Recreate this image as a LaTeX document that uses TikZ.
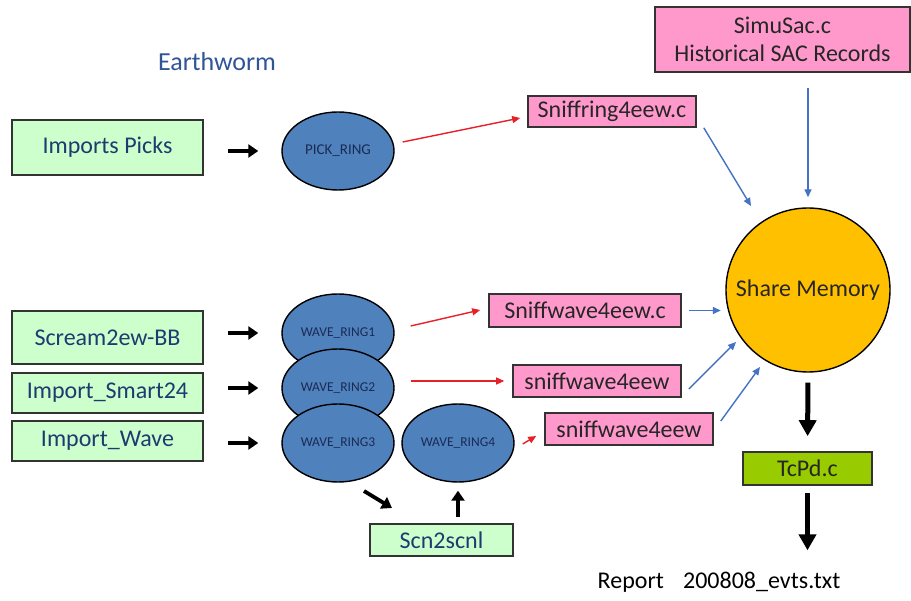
\documentclass[tikz,border=0pt]{standalone}
\usepackage{fontspec}
\setmainfont{Carlito}
\usetikzlibrary{shapes.geometric,arrows.meta,calc}
\definecolor{boxgreen}{HTML}{CCFFCC}
\definecolor{boxpink}{HTML}{FF99CC}
\definecolor{ringblue}{HTML}{4F81BD}
\definecolor{memyellow}{HTML}{FFC000}
\definecolor{tcgreen}{HTML}{99CC00}
\definecolor{navytext}{HTML}{1F3A70}
\definecolor{ringtext}{HTML}{1A2B55}
\definecolor{ewblue}{HTML}{2F5597}
\definecolor{arrred}{HTML}{E8202A}
\definecolor{arrblue}{HTML}{4472C4}
\begin{document}
\begin{tikzpicture}[x=1pt,y=-1pt,
  bigfont/.style={font=\fontsize{24}{28}\selectfont},
  gbox/.style={draw=black!80, line width=1.6pt, fill=boxgreen, text=navytext, bigfont, inner sep=0pt},
  pbox/.style={draw=black!80, line width=1.6pt, fill=boxpink, text=black!85, bigfont, inner sep=0pt},
  ring/.style={ellipse, draw=black, line width=1.4pt, fill=ringblue, minimum width=112pt, minimum height=78pt, inner sep=0pt, font=\fontsize{13.5}{15}\selectfont, text=ringtext},
  blk/.style={-{Triangle[length=10pt,width=13pt]}, line width=3.8pt, draw=black},
  bigblk/.style={-{Triangle[length=16pt,width=17pt]}, line width=5pt, draw=black},
  redarr/.style={-{Triangle[length=8pt,width=7pt]}, line width=1.4pt, draw=arrred, fill=arrred},
  bluearr/.style={-{Triangle[length=8pt,width=7pt]}, line width=1.4pt, draw=arrblue, fill=arrblue}]
\useasboundingbox[fill=white] (0,0) rectangle (911,601);

\node[text=ewblue, font=\fontsize{26}{30}\selectfont] (ew) at (217,62) {Earthworm};

% left input boxes
\node[gbox, minimum width=191pt, minimum height=55pt] (ip) at (107.5,147.5) {Imports Picks};
\node[gbox, minimum width=191pt, minimum height=53pt] (sc) at (107.5,337.5) {Scream2ew-BB};
\node[gbox, minimum width=191pt, minimum height=40pt] (ism) at (107.5,393) {Import\_Smart24};
\node[gbox, minimum width=191pt, minimum height=40pt] (iw) at (107.5,441) {Import\_Wave};

% rings
\node[ring, font=\fontsize{15}{17}\selectfont] (pick) at (338,151) {PICK\_RING};
\node[ring] (wr1) at (338,333) {WAVE\_RING1};
\node[ring] (wr2) at (338,388) {WAVE\_RING2};
\node[ring] (wr3) at (338,443) {WAVE\_RING3};
\node[ring] (wr4) at (458,443) {WAVE\_RING4};

\node[gbox, minimum width=143pt, minimum height=32pt] (scn) at (441.5,540) {Scn2scnl};

% pink boxes
\node[pbox, minimum width=168pt, minimum height=31pt] (sr) at (612,111.5) {Sniffring4eew.c};
\node[pbox, minimum width=255pt, minimum height=65pt, align=center] (simu) at (782.5,39.5) {SimuSac.c\\Historical SAC Records};
\node[pbox, minimum width=192pt, minimum height=33pt] (sw1) at (585,310.5) {Sniffwave4eew.c};
\node[pbox, minimum width=168pt, minimum height=32pt] (sw2) at (597,381) {sniffwave4eew};
\node[pbox, minimum width=168pt, minimum height=32pt] (sw3) at (629,429) {sniffwave4eew};

% share memory
\node[circle, draw=black, line width=1.4pt, fill=memyellow, minimum size=164pt, inner sep=0pt, bigfont, text=black!85] (sm) at (808,290) {Share Memory};

\node[draw=black!80, line width=1.6pt, fill=tcgreen, minimum width=129pt, minimum height=33pt, inner sep=0pt, bigfont, text=black!85] (tc) at (807.5,468.5) {TcPd.c};

\node[bigfont, text=black] (rep) at (719,582) {Report\hspace{0.8em}200808\_evts.txt};

% black input arrows
\draw[blk, shorten <=24pt, shorten >=23pt] (ip.east |- pick.west) -- (pick.west);
\draw[blk, shorten <=24pt, shorten >=23pt] (sc.east |- wr1.west) -- (wr1.west);
\draw[blk, shorten <=24pt, shorten >=23pt] (ism.east |- wr2.west) -- (wr2.west);
\draw[blk, shorten <=24pt, shorten >=23pt] (iw.east |- wr3.west) -- (wr3.west);
\draw[blk] ($(wr3.center)+(26,48)$) -- ($(scn.center)+(-49.5,-32)$);
\draw[blk, shorten <=6pt, shorten >=8pt] (scn.north -| wr4.south) -- (wr4.south);

% red arrows
\draw[redarr] ($(pick.east)+(8,-9)$) -- ($(sr.west)+(-7,6.5)$);
\draw[redarr] ($(wr1.east)+(16,-7)$) -- ($(sw1.west)+(-8,-0.5)$);
\draw[redarr] ($(wr2.east)+(16,-7)$) -- ($(sw2.west)+(-8,0)$);
\draw[redarr] ($(wr4.east)+(8,1)$) -- ($(sw3.west)+(-8,7)$);

% blue arrows
\coordinate (sa) at ($(simu.south -| sm.north)+(0,15)$);
\draw[bluearr] ($(sr.south east)+(7,0)$) -- ($(sm.center)+(-57,-84)$);
\draw[bluearr] (sa) -- ($(sm.north)+(0,-10)$);
\draw[bluearr] ($(sw1.east)+(7,0)$) -- ($(sw1.east)+(39,0)$);
\draw[bluearr] ($(sw2.east)+(7,8)$) -- ($(sm.center)+(-72,52)$);
\draw[bluearr] ($(sw3.east)+(7,-8)$) -- ($(sm.center)+(-48,77)$);

% black output arrows
\draw[bigblk, shorten <=10pt, shorten >=15pt] (sm.south) -- (tc.north);
\draw[bigblk, shorten <=7pt, shorten >=18pt] (tc.south) -- (rep.north -| tc.south);
\end{tikzpicture}
\end{document}
